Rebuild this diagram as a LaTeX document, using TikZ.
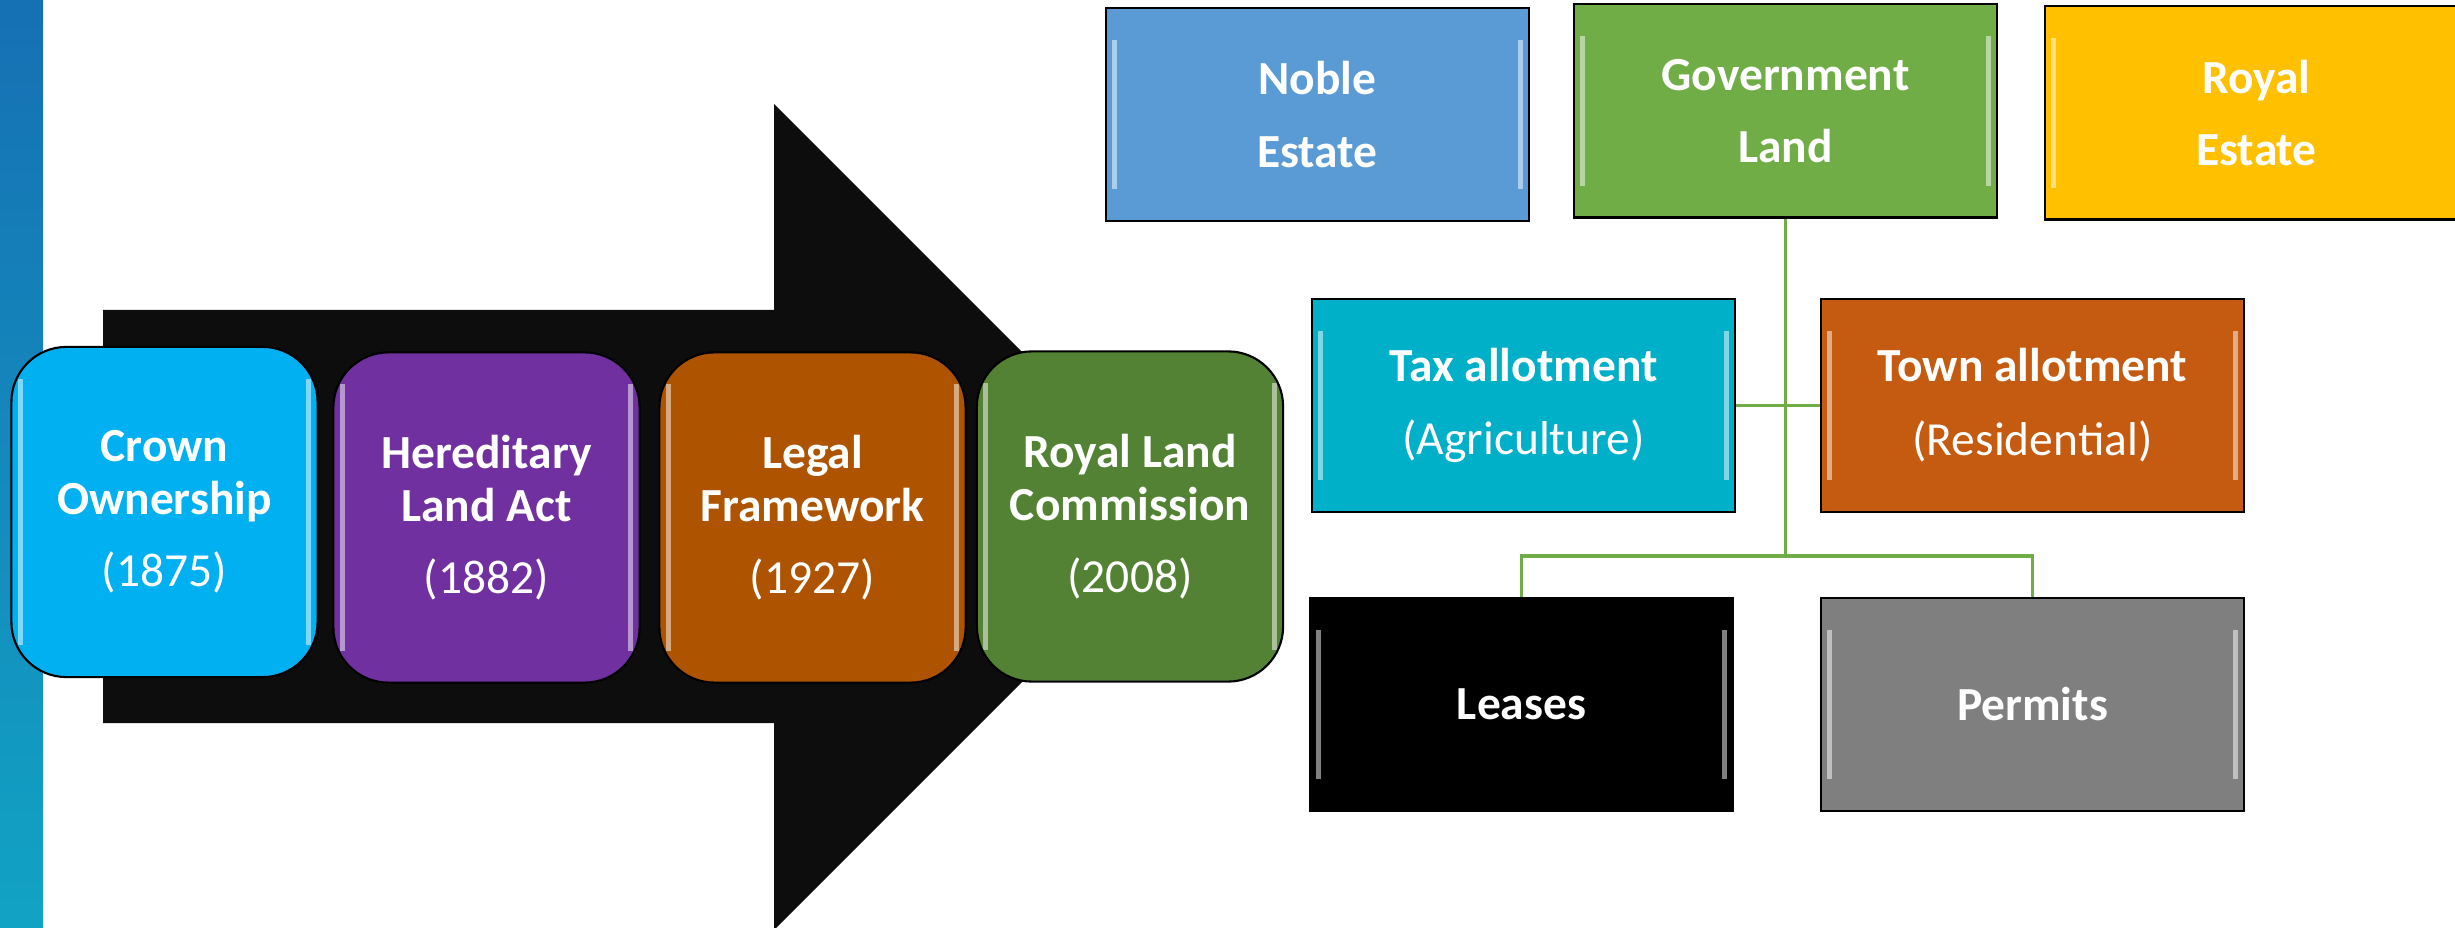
\documentclass[tikz,border=0pt]{standalone}
\usepackage{fontspec}
\setmainfont{Carlito}
\usepackage{xcolor}
\usepackage{tikz}
\definecolor{stripetop}{HTML}{1670B4}
\definecolor{stripebot}{HTML}{11A3C4}
\definecolor{arrowfill}{HTML}{0D0D0D}
\definecolor{crown}{HTML}{00B0F0}
\definecolor{hered}{HTML}{7030A0}
\definecolor{legal}{HTML}{AE5300}
\definecolor{commission}{HTML}{548235}
\definecolor{noble}{HTML}{5B9BD5}
\definecolor{govt}{HTML}{70AD47}
\definecolor{royal}{HTML}{FFC000}
\definecolor{tax}{HTML}{00AFC8}
\definecolor{town}{HTML}{C55A11}
\definecolor{permit}{HTML}{7F7F7F}
\tikzset{
  boxfont/.style={font=\fontsize{13.5}{15}\selectfont},
  gloss/.style={path picture={
    \draw[white, opacity=.5, line width=1.4pt]
      ([xshift=.09cm,yshift=-.32cm]path picture bounding box.north west) -- ([xshift=.09cm,yshift=.32cm]path picture bounding box.south west)
      ([xshift=-.09cm,yshift=-.32cm]path picture bounding box.north east) -- ([xshift=-.09cm,yshift=.32cm]path picture bounding box.south east);
  }},
  stage/.style={boxfont, gloss, draw=black, line width=0.6pt, rounded corners=0.55cm,
    minimum width=3.06cm, minimum height=3.3cm, text=white, align=center, inner sep=0pt},
  plot/.style={boxfont, gloss, draw=black, line width=0.6pt,
    minimum width=4.23cm, minimum height=2.13cm, text=white, align=center, inner sep=0pt},
  branch/.style={draw=govt, line width=0.9pt}
}

\begin{document}
\begin{tikzpicture}[x=0.01cm, y=-0.01cm]
  \useasboundingbox (0,0) rectangle (2455,928);
  \clip (0,0) rectangle (2455,928);

  % side stripe and big arrow
  \shade[top color=stripetop, bottom color=stripebot] (0,0) rectangle (43,928);
  \fill[arrowfill] (103,310) -- (774,310) -- (774,104) -- (1187,517)
    -- (774,930) -- (774,723) -- (103,723) -- cycle;

  % timeline
  \node[stage, fill=crown] (crown) at (164.5,512) {\textbf{Crown}\\\textbf{Ownership}\\[5.5pt](1875)};
  \node[stage, fill=hered] (hered) at (486.5,517.5) {\textbf{Hereditary}\\\textbf{Land Act}\\[5.5pt](1882)};
  \node[stage, fill=legal] (legal) at (812.5,517.5) {\textbf{Legal}\\\textbf{Framework}\\[5.5pt](1927)};
  \node[stage, fill=commission] (comm) at (1130,516.5) {\textbf{Royal Land}\\\textbf{Commission}\\[5.5pt](2008)};

  % land types
  \node[plot, fill=noble] (noble) at (1317.5,114.5) {\textbf{Noble}\\[5.5pt]\textbf{Estate}};
  \node[plot, fill=govt] (gov) at (1785.5,111) {\textbf{Government}\\[5.5pt]\textbf{Land}};
  \node[plot, fill=royal] (royal) at (2256.5,113) {\textbf{Royal}\\[5.5pt]\textbf{Estate}};
  \node[plot, fill=tax] (tax) at (1523.5,405.5) {\textbf{Tax allotment}\\[6pt](Agriculture)};
  \node[plot, fill=town] (town) at (2032.5,405.5) {\textbf{Town allotment}\\[6pt](Residential)};
  \node[plot, fill=black] (leases) at (1521.5,704.5) {\textbf{Leases}};
  \node[plot, fill=permit] (permits) at (2032.5,704.5) {\textbf{Permits}};

  \coordinate (hub) at (1785.5,556);
  \draw[branch] (gov.south) -- (hub);
  \draw[branch] (tax.east) -- (town.west);
  \draw[branch] (leases.north) |- (hub) -| (permits.north);
\end{tikzpicture}
\end{document}
